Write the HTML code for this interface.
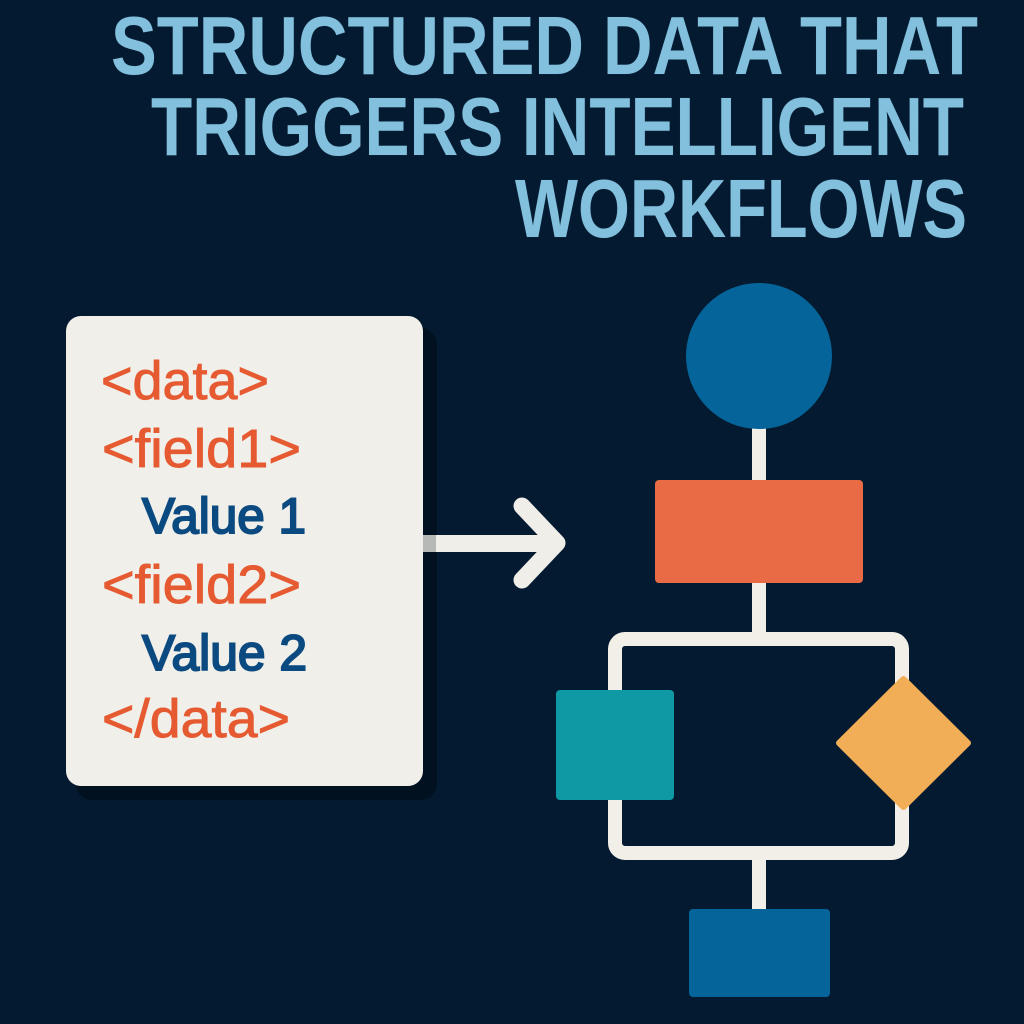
<!DOCTYPE html>
<html>
<head>
<meta charset="utf-8">
<style>
html,body{margin:0;padding:0;background:#031a30;}
svg{display:block;}
</style>
</head>
<body>
<svg width="1024" height="1024" viewBox="0 0 1024 1024" xmlns="http://www.w3.org/2000/svg">
  <rect x="0" y="0" width="1024" height="1024" fill="#031a30"/>

  <!-- Title -->
  <g font-family="'Liberation Sans', sans-serif" font-weight="bold" font-size="83" fill="#82c0de" stroke="#0a2238" stroke-width="1.5" paint-order="stroke">
    <text x="111" y="74" textLength="867" lengthAdjust="spacingAndGlyphs">STRUCTURED DATA THAT</text>
    <text x="151" y="155" textLength="813" lengthAdjust="spacingAndGlyphs">TRIGGERS INTELLIGENT</text>
    <text x="515" y="237" textLength="452" lengthAdjust="spacingAndGlyphs">WORKFLOWS</text>
  </g>

  <!-- Card shadow -->
  <rect x="76" y="328" width="361" height="472" rx="16" fill="#01111f"/>
  <!-- Card -->
  <rect x="66" y="316" width="357" height="470" rx="15" fill="#f0efe9"/>

  <!-- Card text -->
  <g font-family="'Liberation Sans', sans-serif">
    <g fill="#e65a32" stroke="#e65a32" stroke-width="0.9" font-size="54">
      <text x="101" y="399" textLength="168" lengthAdjust="spacingAndGlyphs">&lt;data&gt;</text>
      <text x="102" y="467" textLength="199" lengthAdjust="spacingAndGlyphs">&lt;field1&gt;</text>
      <text x="102" y="603" textLength="199" lengthAdjust="spacingAndGlyphs">&lt;field2&gt;</text>
      <text x="102" y="737" textLength="188" lengthAdjust="spacingAndGlyphs">&lt;/data&gt;</text>
    </g>
    <g fill="#0b4a80" stroke="#0b4a80" stroke-width="2" font-size="50">
      <text x="142" y="533" textLength="164" lengthAdjust="spacingAndGlyphs">Value 1</text>
      <text x="142" y="670" textLength="165" lengthAdjust="spacingAndGlyphs">Value 2</text>
    </g>
  </g>

  <!-- Arrow -->
  <rect x="423" y="535" width="130" height="17" fill="#efeee9"/>
  <rect x="423" y="535" width="13" height="17" fill="#b7b9b6"/>
  <polyline points="522,506 557,543 522,580" fill="none" stroke="#efeee9" stroke-width="17" stroke-linecap="round" stroke-linejoin="round"/>

  <!-- Flowchart connectors -->
  <rect x="752" y="420" width="14" height="70" fill="#f1efe8"/>
  <rect x="752" y="575" width="14" height="70" fill="#f1efe8"/>
  <rect x="615" y="639" width="287" height="214" rx="10" fill="none" stroke="#f1efe8" stroke-width="14"/>
  <rect x="752" y="853" width="14" height="60" fill="#f1efe8"/>

  <!-- Circle -->
  <circle cx="759" cy="356" r="73" fill="#05659a"/>
  <!-- Orange rect -->
  <rect x="655" y="480" width="208" height="103" rx="4" fill="#e96b45"/>
  <!-- Teal rect -->
  <rect x="556" y="690" width="118" height="110" rx="4" fill="#0e99a5"/>
  <!-- Diamond -->
  <polygon points="903.5,679 968,743 903.5,807 839,743" fill="#f2ae57" stroke="#f2ae57" stroke-width="6" stroke-linejoin="round"/>
  <!-- Bottom rect -->
  <rect x="689" y="909" width="141" height="88" rx="4" fill="#05659a"/>
</svg>
</body>
</html>
